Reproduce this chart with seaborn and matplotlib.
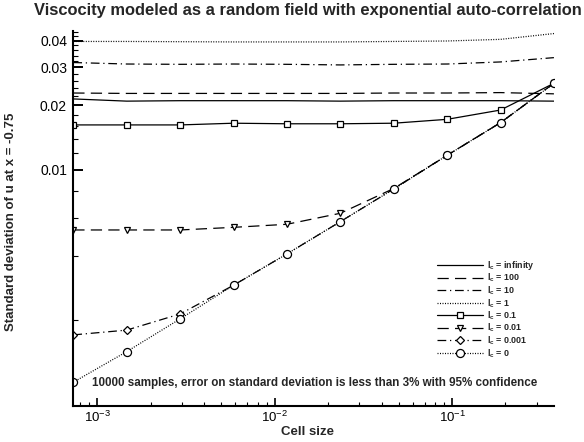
import matplotlib
matplotlib.use("Agg")
import matplotlib.pyplot as plt
import matplotlib.ticker as mticker
import numpy as np
import pandas as pd
import seaborn as sns

# cell sizes (x) shared by all curves
cell_size = [0.000732, 0.001465, 0.00293, 0.00586, 0.01172,
             0.02344, 0.04688, 0.09375, 0.1875, 0.375]

# standard deviation of u at x=-0.75, one list per correlation length
std_inf = [0.0214, 0.0209, 0.0210, 0.0210, 0.0210, 0.0209, 0.0210, 0.0210, 0.0210, 0.0209]
std_100 = [0.0228, 0.0227, 0.0227, 0.0227, 0.0227, 0.0227, 0.0228, 0.0228, 0.0229, 0.0226]
std_10 = [0.0316, 0.0311, 0.0310, 0.0311, 0.0310, 0.0308, 0.0310, 0.0311, 0.0318, 0.0333]
std_1 = [0.0396, 0.0396, 0.0395, 0.0394, 0.0394, 0.0394, 0.0396, 0.0398, 0.0405, 0.0431]
std_01 = [0.0162, 0.0162, 0.0162, 0.0165, 0.0164, 0.0164, 0.0165, 0.0172, 0.0190, 0.0253]
std_001 = [0.00526, 0.00526, 0.00526, 0.00541, 0.00559, 0.00629, 0.0082, 0.0117, 0.0166, 0.0253]
std_0001 = [0.00171, 0.00180, 0.00214, 0.00291, 0.00407, 0.00575, 0.00816, 0.0117, 0.0166, 0.0253]
std_0 = [0.00103, 0.00143, 0.00203, 0.00291, 0.00407, 0.00575, 0.00816, 0.0117, 0.0166, 0.0253]

labels = ["infinity", "100", "10", "1", "0.1", "0.01", "0.001", "0"]
series = [std_inf, std_100, std_10, std_1, std_01, std_001, std_0001, std_0]

y_major = [0.01, 0.02, 0.03, 0.04]

sns.set_style("white")
plt.rcParams["font.family"] = ["Liberation Sans", "DejaVu Sans"]
plt.rcParams["mathtext.fontset"] = "custom"
plt.rcParams["mathtext.rm"] = "Liberation Sans"
plt.rcParams["mathtext.bf"] = "Liberation Sans:bold"

# line style, marker, marker size for each curve
styles = [
    ("-", None, 0),
    ((0, (9, 5)), None, 0),
    ((0, (7, 3, 1, 3)), None, 0),
    ((0, (0.8, 1.2)), None, 0),
    ("-", "s", 4.5),
    ((0, (9, 5)), "v", 4.8),
    ((0, (7, 3, 1, 3)), "D", 3.8),
    ((0, (0.8, 1.2)), "o", 5.8),
]

fig = plt.figure(figsize=(5.84, 4.42), dpi=100)
ax = fig.add_axes([0.1255, 0.0821, 0.8237, 0.8478])

for lab, vals, (ls, mk, ms) in zip(labels, series, styles):
    df = pd.DataFrame({"h": cell_size, "std": vals})
    kw = dict(color="black", lw=0.9, linestyle=ls)
    if mk:
        kw.update(marker=mk, ms=ms, mfc="white", mec="black", mew=0.9)
    sns.lineplot(data=df, x="h", y="std", ax=ax, label=r"l$_\mathbf{c}$ = " + lab, **kw)

ax.set_xscale("log")
ax.set_yscale("log")
ax.set_xlim(0.000732, 0.377)
ax.set_ylim(0.000801, 0.0443)

ax.yaxis.set_major_locator(mticker.FixedLocator(y_major))
ax.yaxis.set_major_formatter(mticker.FixedFormatter(["0.01", "0.02", "0.03", "0.04"]))
y_minor = [v for v in np.arange(0.002, 0.0445, 0.002) if min(abs(v - m) for m in y_major) > 1e-6]
ax.yaxis.set_minor_locator(mticker.FixedLocator(y_minor))
ax.yaxis.set_minor_formatter(mticker.NullFormatter())
ax.xaxis.set_major_locator(mticker.LogLocator(base=10, numticks=10))
ax.xaxis.set_minor_locator(mticker.LogLocator(base=10, subs=np.arange(2, 10), numticks=20))
ax.xaxis.set_minor_formatter(mticker.NullFormatter())

for s in ["top", "right"]:
    ax.spines[s].set_visible(False)
for s in ["left", "bottom"]:
    ax.spines[s].set_linewidth(1.5)
    ax.spines[s].set_color("black")

ax.tick_params(axis="y", which="major", direction="in", length=7.2, width=1.4, labelsize=10, pad=4.5)
ax.tick_params(axis="y", which="minor", direction="in", length=3.6, width=0.8)
ax.tick_params(axis="x", which="major", direction="in", length=5.5, width=1.2, labelsize=9.5, pad=3)
ax.tick_params(axis="x", which="minor", direction="in", length=2.9, width=0.8)
ax.tick_params(colors="black", left=True, bottom=True, which="both")

ax.set_xlabel("Cell size", fontsize=9.5, fontweight="bold", labelpad=1)
ax.set_ylabel("Standard deviation of u at x = -0.75", fontsize=9.5, fontweight="bold")
ax.xaxis.set_label_coords(0.486, -0.055)
ax.yaxis.set_label_coords(-0.117, 0.49)

fig.text(307.5 / 584, 1 - 10 / 442, "Viscocity modeled as a random field with exponential auto-correlation",
         ha="center", va="center", fontsize=11.9, fontweight="bold")
fig.text(91.7 / 584, 1 - 383 / 442,
         "10000 samples, error on standard deviation is less than 3% with 95% confidence",
         ha="left", va="center", fontsize=8.4, fontweight="bold")

leg = ax.legend(loc="upper left", bbox_to_anchor=(437 / 584, 1 - 259 / 442),
                bbox_transform=fig.transFigure, frameon=False,
                prop={"weight": "bold", "size": 6.4}, labelspacing=0.0, handlelength=5.2,
                handletextpad=0.4, borderpad=0, borderaxespad=0, numpoints=1)

fig.savefig("out.png", dpi=100)
